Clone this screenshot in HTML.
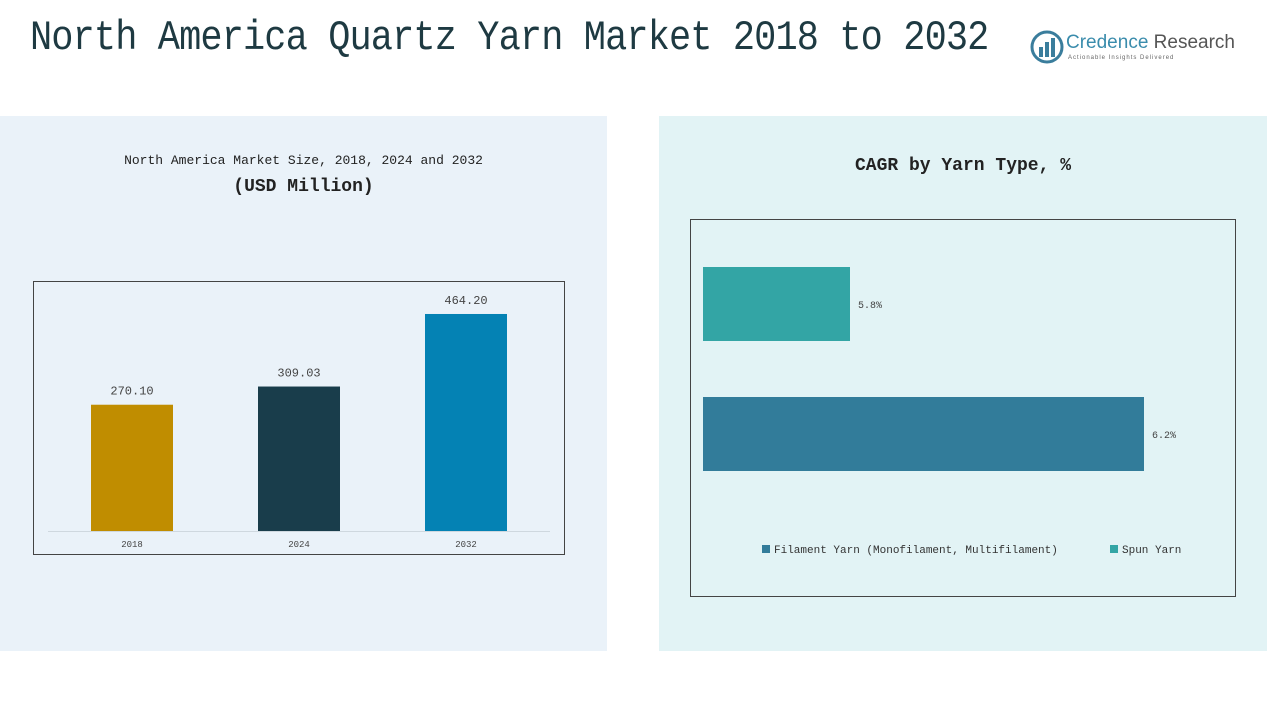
<!DOCTYPE html>
<html><head><meta charset="utf-8"><style>
body{margin:0;width:1267px;height:713px;background:#fff;position:relative;overflow:hidden;font-family:"Liberation Mono","Noto Sans CJK SC",monospace;}
.abs{position:absolute}
</style></head><body>
<div class="abs" style="left:30px;top:14px;font-size:42px;color:#1e3a42;font-family:'Liberation Mono','Noto Serif CJK SC',monospace;letter-spacing:-1px;transform:scaleX(0.88);transform-origin:left">North America Quartz Yarn Market 2018 to 2032</div>
<div class="abs" style="left:1030px;top:30px;">
<svg width="34" height="34"><circle cx="17" cy="17" r="15" fill="none" stroke="#3a7d9c" stroke-width="3"/><rect x="9" y="17" width="4" height="10" fill="#3a7d9c"/><rect x="15" y="12" width="4" height="15" fill="#3a7d9c"/><rect x="21" y="8" width="4" height="19" fill="#3a7d9c"/></svg>
<span class="abs" style="left:36px;top:2px;font-family:'Liberation Sans',sans-serif;font-size:19px;color:#3a8cac;white-space:nowrap">Credence <span style="color:#555">Research</span></span>
<span class="abs" style="left:38px;top:25px;font-family:'Liberation Sans',sans-serif;font-size:6px;color:#666;white-space:nowrap;letter-spacing:1px">Actionable Insights Delivered</span>
</div>
<div class="abs" style="left:0;top:116px;width:607px;height:535px;background:#eaf2f9"></div>
<div class="abs" style="left:659px;top:116px;width:608px;height:535px;background:#e2f3f5"></div>
<div class="abs" style="left:0;width:607px;top:153px;text-align:center;font-size:13px;color:#222">North America Market Size, 2018, 2024 and 2032</div>
<div class="abs" style="left:0;width:607px;top:177px;text-align:center;font-size:18px;color:#222;font-weight:bold">(USD Million)</div>
<div class="abs" style="left:659px;width:608px;top:156px;text-align:center;font-size:18px;color:#222;font-weight:bold">CAGR by Yarn Type, %</div>
<svg class="abs" style="left:0;top:0" width="1267" height="713" id="svg">
<rect x="33.5" y="281.5" width="531" height="273" fill="none" stroke="#444"/>
<line x1="48" y1="531.5" x2="550" y2="531.5" stroke="#cfd8df"/>
<rect x="690.5" y="219.5" width="545" height="377" fill="none" stroke="#444"/>
<g id="g1"></g><g id="g2"></g>
<rect x="762" y="545" width="8" height="8" fill="#327c9a"/>
<text x="774" y="553" font-size="11" fill="#333">Filament Yarn (Monofilament, Multifilament)</text>
<rect x="1110" y="545" width="8" height="8" fill="#33a5a5"/>
<text x="1122" y="553" font-size="11" fill="#333">Spun Yarn</text>
</svg>
<script>
const years=["2018","2024","2032"];
const sizes=[270.10,309.03,464.20];
const barColors=["#c08d00","#193d4b","#0482b4"];
const types=["Spun Yarn","Filament Yarn"];
const cagr=[5.8,6.2];
const hColors=["#33a5a5","#327c9a"];
const NS="http://www.w3.org/2000/svg";
function mk(t,a){const e=document.createElementNS(NS,t);for(const k in a)e.setAttribute(k,a[k]);return e;}
const base=531, k=0.4675;
const y=v=>base-v*k;
const xc=i=>132+i*167;
const g1=document.getElementById('g1');
years.forEach((yr,i)=>{
 const r=mk('rect',{x:xc(i)-41,y:y(sizes[i]),width:82,height:base-y(sizes[i]),fill:barColors[i]});
 
 
 g1.appendChild(r);
 const t=mk('text',{x:xc(i),y:y(sizes[i])-10,'text-anchor':'middle','font-size':12,fill:'#444'});
 t.textContent=sizes[i].toFixed(2);
 
 
 g1.appendChild(t);
 const l=mk('text',{x:xc(i),y:547,'text-anchor':'middle','font-size':9,fill:'#444'});
 l.textContent=yr;
 
 
 g1.appendChild(l);
});
const x0=703, hk=735, hmin=5.6;
const hx=v=>x0+(v-hmin)*hk;
const g2=document.getElementById('g2');
types.forEach((tp,i)=>{
 const top=267+i*130;
 const r=mk('rect',{x:x0,y:top,width:hx(cagr[i])-x0,height:74,fill:hColors[i]});
 
 
 g2.appendChild(r);
 const t=mk('text',{x:hx(cagr[i])+8,y:top+41,'font-size':10,fill:'#444'});
 t.textContent=cagr[i].toFixed(1)+'%';
 
 
 g2.appendChild(t);
});
</script>
</body></html>
